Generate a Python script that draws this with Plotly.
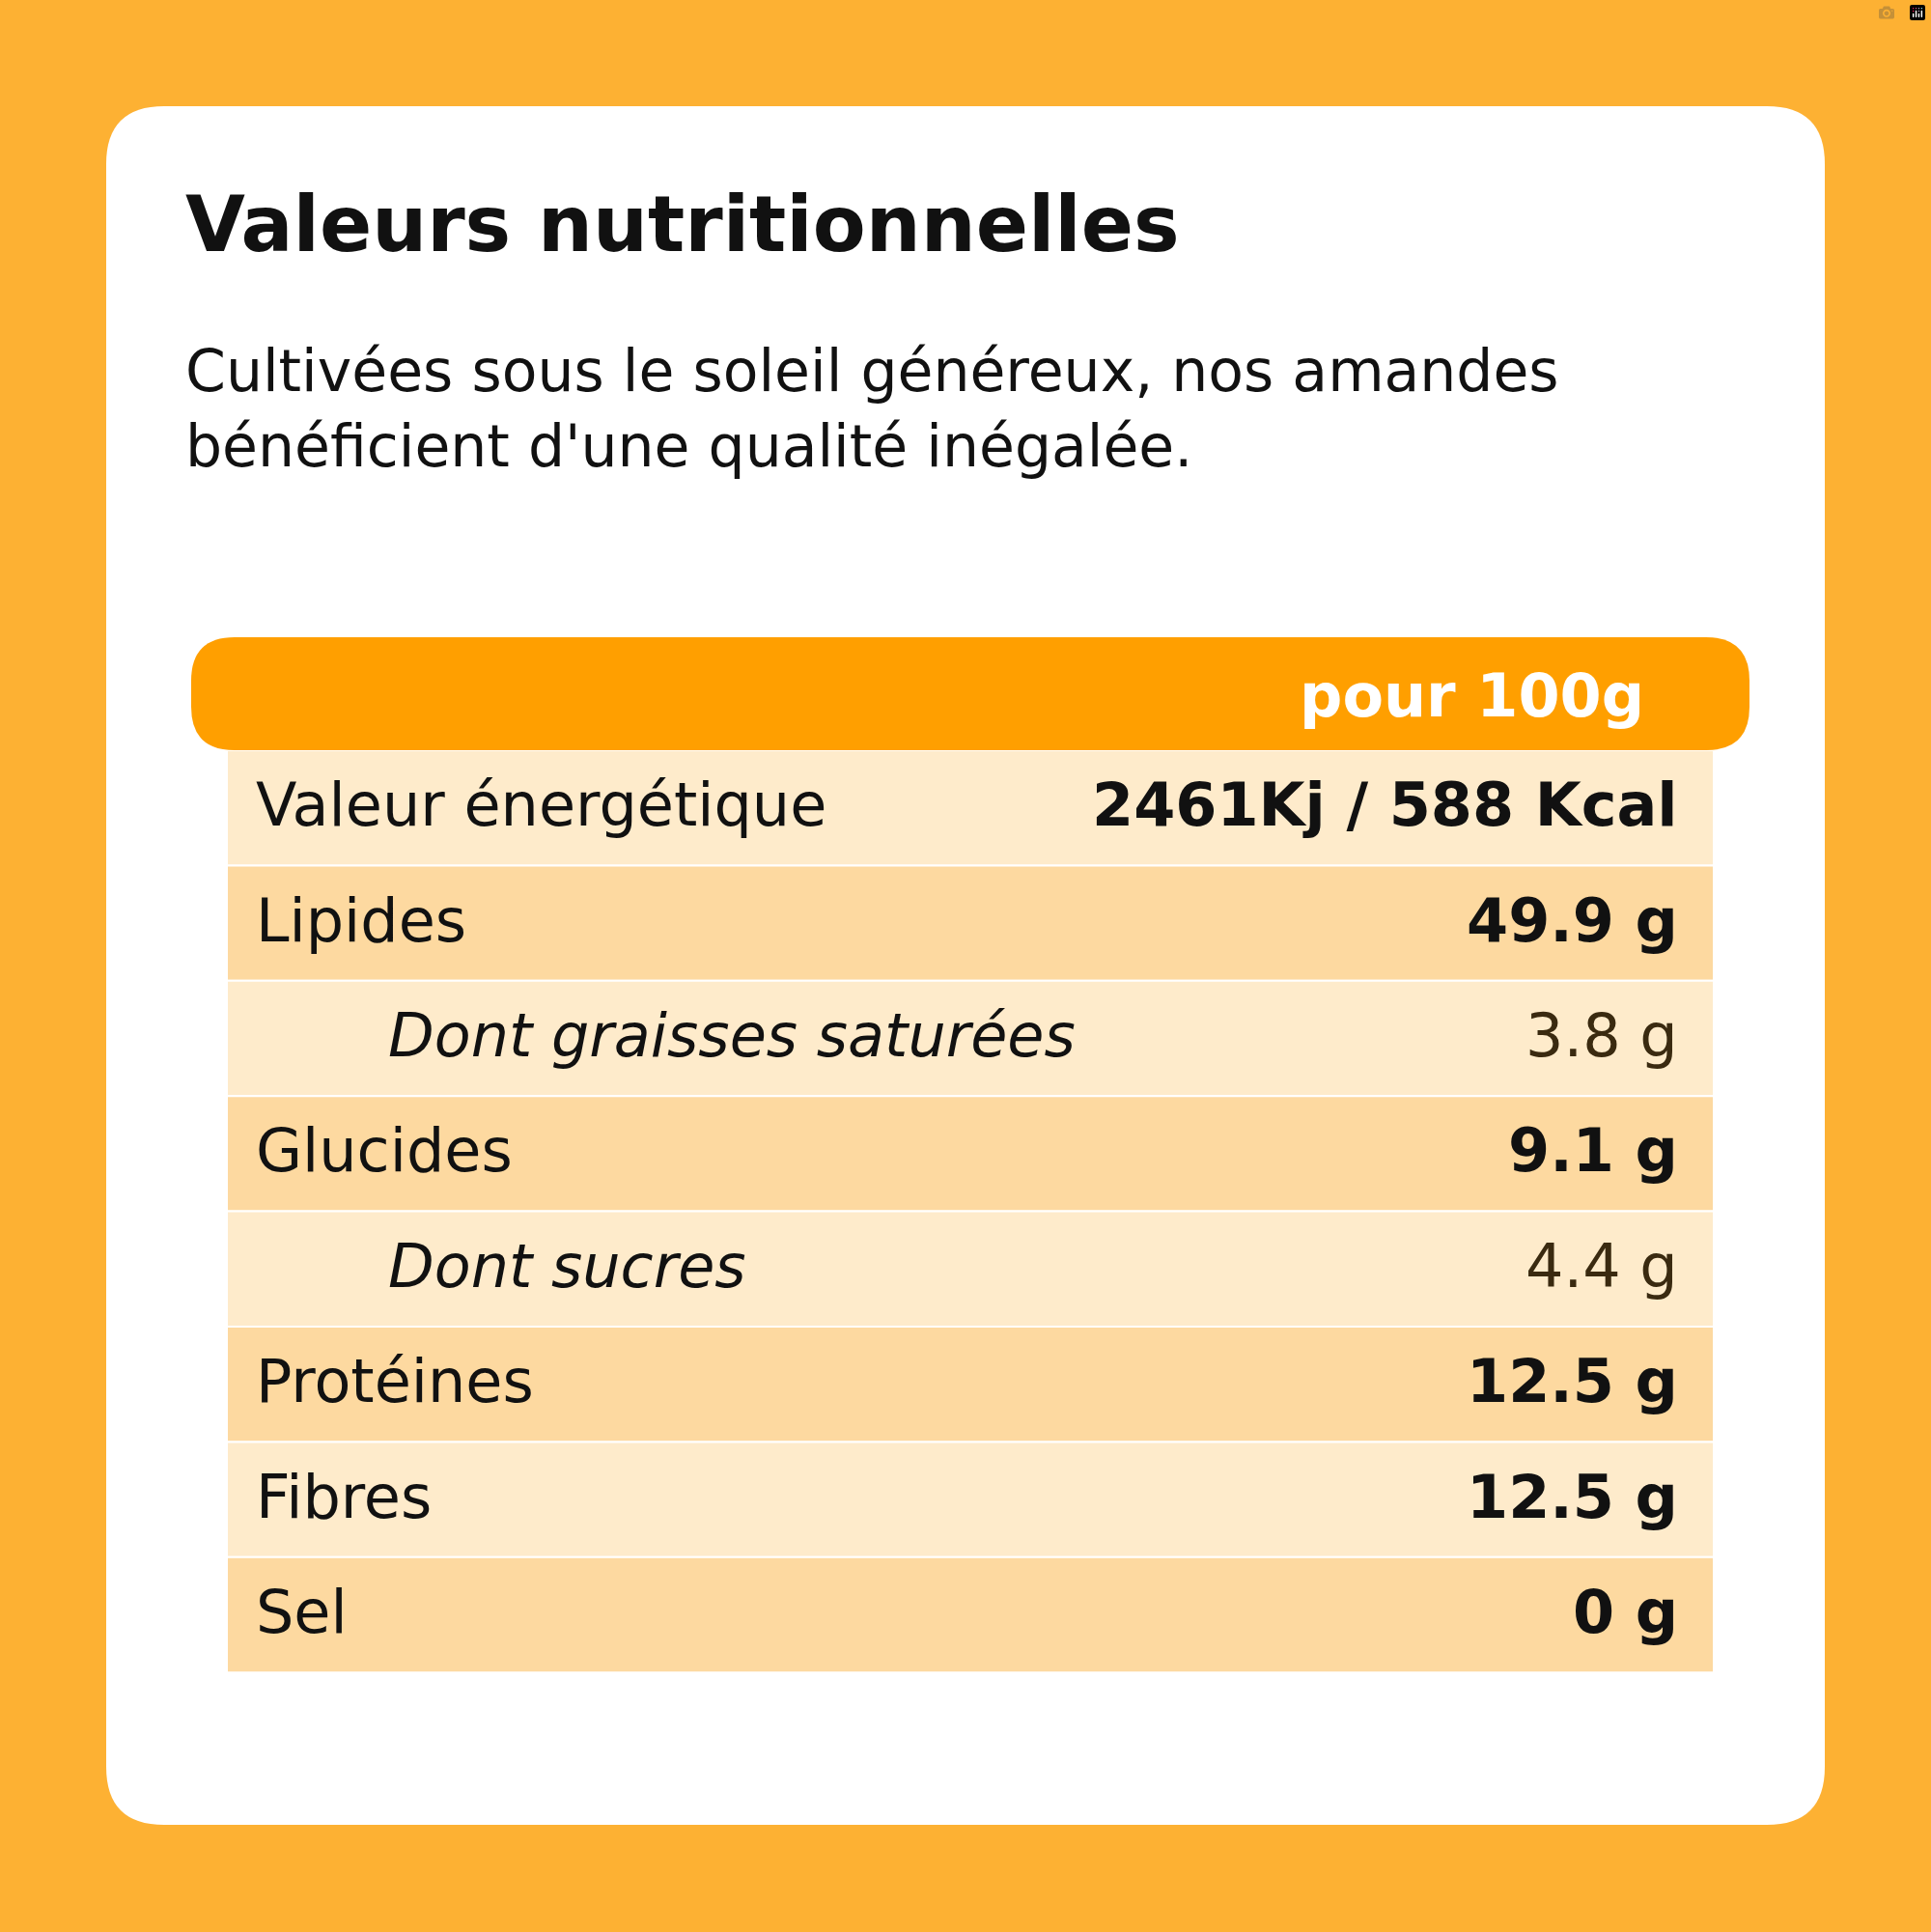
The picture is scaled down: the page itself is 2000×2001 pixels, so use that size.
import plotly.graph_objects as go

# ── DATA ──────────────────────────────────────────────────────────────────────
TITLE = "Valeurs nutritionnelles"
SUBTITLE = "Cultivées sous le soleil généreux, nos amandes<br>bénéficient d'une qualité inégalée."
HEADER = "pour 100g"

LABELS = ["Valeur énergétique", "Lipides", "Dont graisses saturées", "Glucides",
          "Dont sucres", "Protéines", "Fibres", "Sel"]
VALUES = ["2461Kj / 588 Kcal", "49.9 g", "3.8 g", "9.1 g", "4.4 g", "12.5 g", "12.5 g", "0 g"]
IS_SUB = [False, False, True, False, True, False, False, False]

# ── LAYOUT ────────────────────────────────────────────────────────────────────
W, H = 2000, 2001
BG = "#FDB133"
BAR = "#FF9F00"
LIGHT = "#FEEBCB"
DARK = "#FDD9A0"
FONT = "DejaVu Sans"


def rrect(x0, y0, x1, y1, r):
    return (f"M{x0+r},{y0} L{x1-r},{y0} Q{x1},{y0} {x1},{y0+r} L{x1},{y1-r} "
            f"Q{x1},{y1} {x1-r},{y1} L{x0+r},{y1} Q{x0},{y1} {x0},{y1-r} "
            f"L{x0},{y0+r} Q{x0},{y0} {x0+r},{y0} Z")


fig = go.Figure()
shapes = [
    dict(type="path", path=rrect(110, 110, 1890, 1890, 60), fillcolor="white", line_width=0, layer="below"),
]
ann = []

row_top = 777
row_h = 119.4
for i, (lab, val, sub) in enumerate(zip(LABELS, VALUES, IS_SUB)):
    y0 = row_top + i * row_h
    shapes.append(dict(type="rect", x0=235, x1=1775, y0=y0, y1=y0 + row_h,
                       fillcolor=LIGHT if i % 2 == 0 else DARK,
                       line=dict(color="white", width=2), layer="below"))
    yc = y0 + row_h / 2 - 3
    ann.append(dict(x=400 if sub else 263, y=yc, text=f"<i>{lab}</i>" if sub else lab,
                    xanchor="left", font=dict(size=62, color="#111111")))
    ann.append(dict(x=1740, y=yc, text=val if sub else f"<b>{val}</b>",
                    xanchor="right", font=dict(size=62, color="#3a2a10" if sub else "#111111")))

shapes.append(dict(type="path", path=rrect(198, 660, 1812, 777, 45), fillcolor=BAR, line_width=0))
ann.append(dict(x=1705, y=720, text=f"<b>{HEADER}</b>", xanchor="right",
                font=dict(size=62, color="white")))
ann.append(dict(x=190, y=232, text=f"<b>{TITLE}</b>", xanchor="left",
                font=dict(size=80, color="#111111")))
ann.append(dict(x=190, y=423, text=SUBTITLE, xanchor="left", align="left",
                font=dict(size=60, color="#111111")))

for a in ann:
    a.update(xref="x", yref="y", showarrow=False, yanchor="middle")
    a["font"]["family"] = FONT

fig.update_layout(
    width=W, height=H, margin=dict(l=0, r=0, t=0, b=0),
    paper_bgcolor=BG, plot_bgcolor=BG,
    xaxis=dict(range=[0, W], visible=False, fixedrange=True),
    yaxis=dict(range=[H, 0], visible=False, fixedrange=True),
    shapes=shapes, annotations=ann, showlegend=False,
)
fig.write_html("out.html", post_script="document.body.style.margin='0';")
